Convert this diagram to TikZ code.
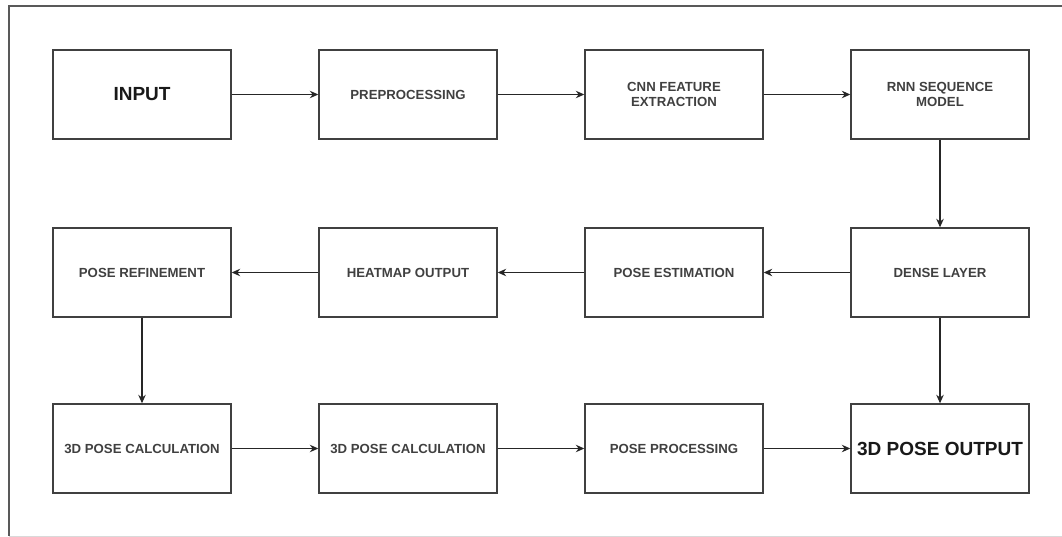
\documentclass[tikz,border=0pt]{standalone}
\usepackage{fontspec}
\setmainfont{Liberation Sans}
\usetikzlibrary{arrows.meta}

\begin{document}
\begin{tikzpicture}[x=1pt, y=-1pt,
    block/.style = {draw=black!75, line width=1.4pt, fill=white,
        minimum width=178pt, minimum height=89pt, inner sep=2pt,
        align=center, text=black!75,
        font=\fontsize{13.2}{15.6}\selectfont\bfseries},
    bigblock/.style = {block, text=black!90,
        font=\fontsize{19}{22}\selectfont\bfseries},
    link/.style = {draw=black!85, line width=1.1pt,
        -{Stealth[length=8.5pt,width=7.5pt]}}]

    \useasboundingbox (0,0) rectangle (1062,537);

    % frame
    \draw[black!65, line width=1.3pt] (1062,6) -- (9,6) -- (9,536);
    \draw[black!15, line width=1pt] (9,536) -- (1062,536);

    % first row
    \node[bigblock] (input) at (142,94.5) {INPUT};
    \node[block] (prep) at (408,94.5) {PREPROCESSING};
    \node[block] (cnn) at (674,94.5) {CNN FEATURE\\EXTRACTION};
    \node[block] (rnn) at (940,94.5) {RNN SEQUENCE\\MODEL};

    % second row
    \node[block] (refine) at (142,272.5) {POSE REFINEMENT};
    \node[block] (heat) at (408,272.5) {HEATMAP OUTPUT};
    \node[block] (est) at (674,272.5) {POSE ESTIMATION};
    \node[block] (dense) at (940,272.5) {DENSE LAYER};

    % third row
    \node[block] (calca) at (142,448.5) {3D POSE CALCULATION};
    \node[block] (calcb) at (408,448.5) {3D POSE CALCULATION};
    \node[block] (proc) at (674,448.5) {POSE PROCESSING};
    \node[bigblock] (output) at (940,448.5) {3D POSE OUTPUT};

    \draw[link] (input) -- (prep);
    \draw[link] (prep) -- (cnn);
    \draw[link] (cnn) -- (rnn);
    \draw[link] (rnn) -- (dense);
    \draw[link] (dense) -- (est);
    \draw[link] (est) -- (heat);
    \draw[link] (heat) -- (refine);
    \draw[link] (refine) -- (calca);
    \draw[link] (calca) -- (calcb);
    \draw[link] (calcb) -- (proc);
    \draw[link] (proc) -- (output);
    \draw[link] (dense) -- (output);

\end{tikzpicture}
\end{document}
